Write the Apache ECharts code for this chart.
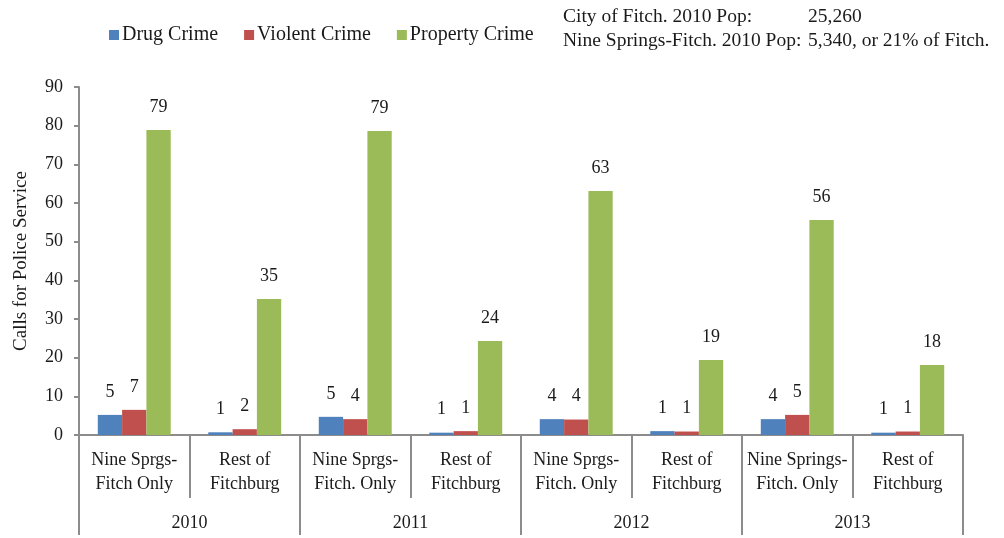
<!DOCTYPE html>
<html><head><meta charset="utf-8">
<script src="https://cdn.jsdelivr.net/npm/echarts@6/dist/echarts.min.js"></script>
<style>html,body{margin:0;padding:0;background:#fff}#c{width:1004px;height:538px}</style>
</head><body><div id="c"></div>
<script>
var categories = ["Nine Sprgs-\nFitch Only","Rest of\nFitchburg","Nine Sprgs-\nFitch. Only","Rest of\nFitchburg","Nine Sprgs-\nFitch. Only","Rest of\nFitchburg","Nine Springs-\nFitch. Only","Rest of\nFitchburg"];
var years = ["2010","2011","2012","2013"];
var drug = [5.2, 0.7, 4.7, 0.6, 4.1, 1.0, 4.1, 0.6];
var violent = [6.5, 1.5, 4.1, 1.0, 4.0, 0.9, 5.2, 0.9];
var property = [78.9, 35.2, 78.6, 24.3, 63.1, 19.4, 55.6, 18.1];
var yTicks = [0,10,20,30,40,50,60,70,80,90];

var FONT = "Liberation Serif";
var TXT = "#1a1a1a";
var AX = "#8c8c8c";
var chart = echarts.init(document.getElementById('c'));
function lbl(){return {show:true,position:'top',distance:14,fontFamily:FONT,fontSize:18,color:TXT,formatter:function(p){return Math.round(p.value);}};}
chart.setOption({
  animation:false,
  textStyle:{fontFamily:FONT},
  legend:{left:104,top:20,itemWidth:10,itemHeight:10,itemGap:26,icon:'rect',
    textStyle:{fontFamily:FONT,fontSize:20,color:TXT,padding:[0,0,0,-2]},
    data:["Drug Crime","Violent Crime","Property Crime"]},
  graphic:[
    {type:'text',left:563,top:7,style:{text:"City of Fitch. 2010 Pop:",font:"19.5px "+FONT,fill:TXT}},
    {type:'text',left:808,top:7,style:{text:"25,260",font:"19.5px "+FONT,fill:TXT}},
    {type:'text',left:563,top:31,style:{text:"Nine Springs-Fitch. 2010 Pop:",font:"19.5px "+FONT,fill:TXT}},
    {type:'text',left:808,top:31,style:{text:"5,340, or 21% of Fitch.",font:"19.5px "+FONT,fill:TXT}}
  ],
  grid:{left:79,right:41,top:87,bottom:103,containLabel:false,outerBoundsMode:'none'},
  xAxis:[
    {type:'category',data:categories,position:'bottom',
     axisLine:{lineStyle:{color:AX,width:2}},
     axisTick:{show:true,length:63,interval:0,lineStyle:{color:AX,width:2}},
     axisLabel:{interval:0,margin:13,fontFamily:FONT,fontSize:18,lineHeight:24,color:TXT}},
    {type:'category',data:years,position:'bottom',
     axisLine:{show:false},
     axisTick:{show:true,length:100,interval:0,lineStyle:{color:AX,width:2}},
     axisLabel:{interval:0,margin:79,fontFamily:FONT,fontSize:18,color:TXT}}
  ],
  yAxis:{type:'value',min:0,max:90,interval:10,
    name:"Calls for Police Service",nameLocation:'middle',nameGap:48,
    nameTextStyle:{fontFamily:FONT,fontSize:19,color:TXT},
    axisLine:{show:true,lineStyle:{color:AX,width:2}},
    axisTick:{show:true,length:5,lineStyle:{color:AX,width:2}},
    splitLine:{show:false},
    axisLabel:{margin:16,fontFamily:FONT,fontSize:18,color:TXT,
      formatter:function(v){return yTicks.indexOf(v)>=0?String(v):'';}}},
  series:[
    {name:"Drug Crime",type:'bar',data:drug,barGap:'0%',barCategoryGap:'34%',itemStyle:{color:'#4F81BD'},label:lbl()},
    {name:"Violent Crime",type:'bar',data:violent,itemStyle:{color:'#C0504D'},label:lbl()},
    {name:"Property Crime",type:'bar',data:property,itemStyle:{color:'#9BBB59'},label:lbl()}
  ]
});
</script></body></html>
